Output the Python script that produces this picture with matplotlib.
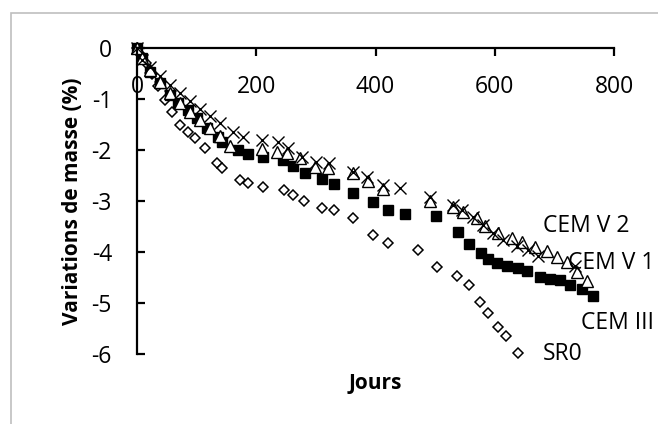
import matplotlib
matplotlib.use("Agg")
import matplotlib.pyplot as plt
from matplotlib.patches import Rectangle

plt.rcParams["font.family"] = ["Open Sans", "DejaVu Sans"]

# Jours / variations de masse (%)
sr0_days = [0, 7, 15, 25, 35, 47, 59, 72, 86, 97, 114, 134, 143, 173, 186, 211, 247,
            262, 280, 310, 330, 362, 396, 421, 471, 503, 537, 557, 575, 589, 605, 619, 639]
sr0_mass = [0, -0.14, -0.29, -0.51, -0.75, -1.02, -1.25, -1.51, -1.65, -1.76, -1.96,
            -2.25, -2.35, -2.59, -2.65, -2.73, -2.78, -2.88, -3.0, -3.14, -3.18, -3.33,
            -3.67, -3.82, -3.96, -4.29, -4.47, -4.65, -4.98, -5.2, -5.47, -5.65, -5.98]

cem3_days = [0, 8, 22, 39, 55, 69, 86, 101, 117, 136, 143, 169, 186, 211, 245, 262,
             282, 310, 330, 362, 396, 421, 449, 501, 538, 557, 577, 589, 604, 620, 639,
             654, 676, 693, 709, 726, 746, 765]
cem3_mass = [0, -0.2, -0.47, -0.69, -0.92, -1.08, -1.22, -1.37, -1.57, -1.75, -1.84,
             -2.0, -2.08, -2.14, -2.2, -2.31, -2.45, -2.57, -2.67, -2.84, -3.02, -3.18,
             -3.25, -3.29, -3.61, -3.84, -4.02, -4.14, -4.22, -4.27, -4.31, -4.37, -4.49,
             -4.53, -4.55, -4.65, -4.73, -4.86]

cemv1_days = [0, 8, 22, 39, 55, 72, 89, 106, 122, 139, 156, 210, 235, 252, 273, 298,
              320, 362, 387, 413, 491, 530, 547, 570, 584, 605, 629, 646, 667, 688, 704,
              721, 738, 755]
cemv1_mass = [0, -0.2, -0.43, -0.67, -0.88, -1.08, -1.25, -1.41, -1.57, -1.73, -1.92,
              -1.98, -2.04, -2.06, -2.16, -2.33, -2.35, -2.45, -2.61, -2.76, -3.0, -3.12,
              -3.22, -3.33, -3.49, -3.63, -3.73, -3.8, -3.9, -3.98, -4.1, -4.2, -4.39, -4.57]

cemv2_days = [0, 8, 22, 39, 55, 72, 89, 106, 122, 139, 161, 178, 210, 236, 253, 277,
              300, 322, 362, 386, 413, 441, 491, 530, 545, 563, 580, 597, 614, 637, 656,
              672, 735]
cemv2_mass = [0, -0.24, -0.37, -0.55, -0.73, -0.88, -1.04, -1.2, -1.33, -1.47, -1.65,
              -1.75, -1.8, -1.84, -1.96, -2.14, -2.24, -2.25, -2.43, -2.53, -2.69, -2.75,
              -2.92, -3.08, -3.18, -3.31, -3.47, -3.63, -3.76, -3.88, -3.96, -4.08, -4.27]

labels = ["CEM V 2", "CEM V 1", "CEM III", "SR0"]
label_x = [681, 723, 745, 681]
label_y = [-3.49, -4.22, -5.39, -6.0]

fig = plt.figure(figsize=(6.58, 4.24), dpi=100)
ax = fig.add_axes([137 / 658, 1 - 354 / 424, 477 / 658, 306 / 424])

fig.patches.append(Rectangle((11 / 658, -0.05), 1.1, 1 - 13 / 424 + 0.05,
                             transform=fig.transFigure, fill=False,
                             edgecolor="#bfbfbf", linewidth=1.2))

ax.plot(sr0_days, sr0_mass, ls="none", marker="D", ms=5.5, mfc="white",
        mec="black", mew=1.1, clip_on=False)
ax.plot(cem3_days, cem3_mass, ls="none", marker="s", ms=7, mfc="black",
        mec="black", clip_on=False)
ax.plot(cemv1_days, cemv1_mass, ls="none", marker="^", ms=8, mfc="white",
        mec="black", mew=1.0, clip_on=False)
ax.plot(cemv2_days, cemv2_mass, ls="none", marker="x", ms=8, mec="black",
        mew=1.0, clip_on=False)

for t, x, y in zip(labels, label_x, label_y):
    ax.text(x, y, t, ha="left", va="center", fontsize=16.5)

ax.set_xlim(0, 800)
ax.set_ylim(-6, 0)
ax.set_xticks([0, 200, 400, 600, 800])
ax.set_yticks([0, -1, -2, -3, -4, -5, -6])
ax.set_yticklabels(["0", "-1", "-2", "-3", "-4", "-5", "-6"])

for s in ["right", "bottom"]:
    ax.spines[s].set_visible(False)
for s in ["left", "top"]:
    ax.spines[s].set_linewidth(1.6)

ax.tick_params(axis="x", top=True, bottom=False, labeltop=True, labelbottom=False,
               direction="in", length=6, width=1.6, pad=-37, labelsize=16.5)
ax.tick_params(axis="y", direction="in", length=6, width=1.6, pad=18, labelsize=16.5)

ax.xaxis.set_label_position("bottom")
ax.set_xlabel("Jours", fontsize=15, fontweight="bold", labelpad=14)
ax.set_ylabel("Variations de masse (%)", fontsize=15, fontweight="bold", labelpad=6)

fig.savefig("out.png", dpi=100)
